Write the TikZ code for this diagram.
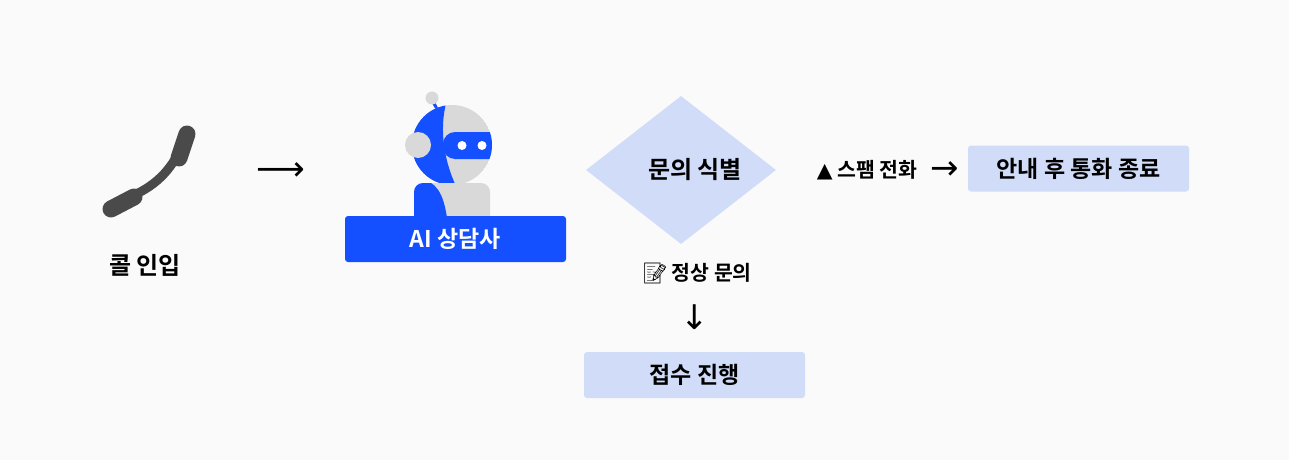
\documentclass[tikz,border=0pt]{standalone}
\usepackage{fontspec}
\newfontfamily\kr{Noto Sans CJK KR Bold}
\newfontfamily\emo{Noto Emoji}
\newfontfamily\dv{DejaVu Sans}
\usetikzlibrary{shapes.geometric}
\definecolor{bg}{HTML}{FAFAFA}
\definecolor{lb}{HTML}{D0DCF8}
\definecolor{bb}{HTML}{1450FF}
\definecolor{rg}{HTML}{D9D9D9}
\definecolor{ph}{HTML}{4A4A4A}
\tikzset{
  lbl/.style={font=\kr\fontsize{20.5}{24}\selectfont,text=black},
  big/.style={font=\kr\fontsize{24}{28}\selectfont,text=black},
  box/.style={fill=lb,rounded corners=3pt,minimum width=221pt,minimum height=46pt,font=\kr\fontsize{23}{27}\selectfont},
  arr/.style={font=\dv\fontsize{34}{34}\selectfont}
}
\begin{document}
\begin{tikzpicture}[x=1pt,y=-1pt]
\fill[bg] (0,0) rectangle (1289,460);
\useasboundingbox (0,0) rectangle (1289,460);
% phone
\coordinate (phone) at (150,172);
\draw[ph,line width=9pt,line cap=round] (180,150) .. controls (168,175) and (150,190) .. (122,200);
\draw[ph,line width=17pt,line cap=round] (187,134) -- (179,158);
\draw[ph,line width=17pt,line cap=round] (111,209) -- (134,197);
\node[big] (call) at (145,265) {콜 인입};
\node[arr] (a1) at (281,172) {⟶};
% robot
\draw[bb,line width=3pt] (432,100) -- (441,116);
\fill[rg] (432,98) circle (6.5);
\begin{scope}
\clip (452,145) circle (40);
\fill[rg] (452,145) circle (40);
\fill[bb] (410,100) -- (447,100) .. controls (438,130) and (445,165) .. (458,190) -- (410,190) -- cycle;
\fill[bb,rounded corners=12pt] (443,132) rectangle (520,159);
\end{scope}
\fill[rg] (418,145) circle (13);
\fill[white] (462,145.5) circle (4.5);
\fill[white] (482,145.5) circle (4.5);
\fill[rg,rounded corners=9pt] (414,183) rectangle (490,225);
\begin{scope}
\clip[rounded corners=9pt] (414,183) rectangle (490,225);
\fill[bb] (410,180) -- (425,180) .. controls (440,185) and (445,200) .. (448,225) -- (410,225) -- cycle;
\end{scope}
\node[box,fill=bb,text=white] (ai) at (455.5,239) {AI 상담사};
% diamond
\node[diamond,fill=lb,minimum width=190pt,minimum height=148pt,inner sep=0pt,aspect=1.28] (q) at (681,170) {};
\node[big] (qt) at (695,170) {문의 식별};
\node[lbl] (spam) at (867,170) {{\dv ▲} 스팸 전화};
\node[arr] (a2) at (945,171) {→};
\node[box] (end) at (1078.5,168.5) {안내 후 통화 종료};
\node[lbl] (ok) at (697,273) {{\emo 📝}\,정상 문의};
\node[arr] (a3) at (695,317) {↓};
\node[box] (acc) at (694.5,375) {접수 진행};
\end{tikzpicture}
\end{document}
